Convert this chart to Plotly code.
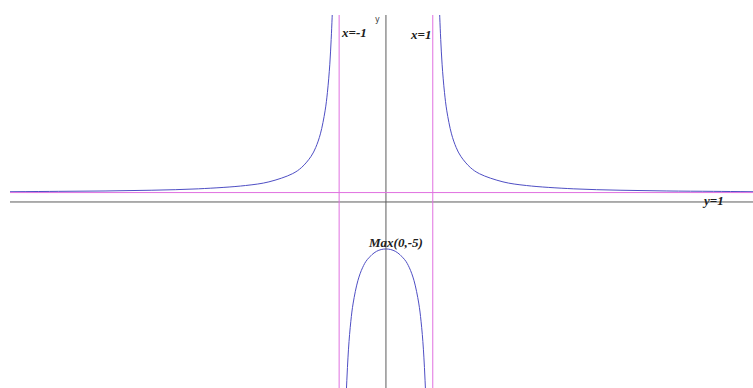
import plotly.graph_objects as go

# values for y = (x^2+5)/(x^2-1)
left_x = [-8.03, -7, -6, -5, -4, -3, -2.5, -2, -1.8, -1.6, -1.5, -1.4, -1.3, -1.25, -1.2, -1.17, -1.15, -1.14]
left_y = [1.09, 1.13, 1.17, 1.25, 1.4, 1.75, 2.14, 3.0, 3.68, 4.85, 5.8, 7.25, 9.7, 11.67, 14.6, 17.3, 19.6, 21.0]
mid_x = [-0.85, -0.8, -0.75, -0.7, -0.6, -0.5, -0.4, -0.2, 0, 0.2, 0.4, 0.5, 0.6, 0.7, 0.75, 0.8, 0.85]
mid_y = [-20.6, -15.67, -12.7, -10.76, -8.38, -7.0, -6.14, -5.25, -5.0, -5.25, -6.14, -7.0, -8.38, -10.76, -12.7, -15.67, -20.6]
right_x = [1.14, 1.15, 1.17, 1.2, 1.25, 1.3, 1.4, 1.5, 1.6, 1.8, 2, 2.5, 3, 4, 5, 6, 7, 7.84]
right_y = [21.0, 19.6, 17.3, 14.6, 11.67, 9.7, 7.25, 5.8, 4.85, 3.68, 3.0, 2.14, 1.75, 1.4, 1.25, 1.17, 1.13, 1.09]

asym_x = [-1, 1]
asym_y = 1
x_min, x_max = -8.03, 7.84
y_min, y_max = -19.8, 19.9

curve_col = '#4e4ec4'
asym_col = '#e070e0'
axis_col = '#5c5c5c'

fig = go.Figure()

# axes
fig.add_shape(type='line', x0=x_min, x1=x_max, y0=0, y1=0, line=dict(color=axis_col, width=1))
fig.add_shape(type='line', x0=0, x1=0, y0=y_min, y1=y_max, line=dict(color=axis_col, width=1))

# asymptotes
for a in asym_x:
    fig.add_shape(type='line', x0=a, x1=a, y0=y_min, y1=y_max, line=dict(color=asym_col, width=1))
fig.add_shape(type='line', x0=x_min, x1=x_max, y0=asym_y, y1=asym_y, line=dict(color=asym_col, width=1))

for xs, ys in [(left_x, left_y), (mid_x, mid_y), (right_x, right_y)]:
    fig.add_trace(go.Scatter(x=xs, y=ys, mode='lines', line=dict(color=curve_col, width=1, shape='spline'),
                             hoverinfo='skip', showlegend=False))

lab_font = dict(family='Liberation Serif', size=13, color='#202020')
fig.add_annotation(x=-1.0, y=18.0, text='<b><i>x=-1</i></b>', showarrow=False, xanchor='left', font=lab_font)
fig.add_annotation(x=0.48, y=17.8, text='<b><i>x=1</i></b>', showarrow=False, xanchor='left', font=lab_font)
fig.add_annotation(x=-0.17, y=19.4, text='y', showarrow=False, font=dict(family='DejaVu Sans', size=8, color='#404040'))
fig.add_annotation(x=0.21, y=-4.36, text='<b><i>Max(0,-5)</i></b>', showarrow=False, font=lab_font)
fig.add_annotation(x=6.99, y=0.21, text='<b><i>y=1</i></b>', showarrow=False, font=lab_font)

fig.update_xaxes(range=[x_min, x_max], visible=False)
fig.update_yaxes(range=[y_min, y_max], visible=False)
fig.update_layout(width=753, height=388, margin=dict(l=10, r=0, t=15, b=0),
                  plot_bgcolor='white', paper_bgcolor='white')

fig.write_html('out.html', config={'displayModeBar': False},
               post_script="document.body.style.margin='0';")
